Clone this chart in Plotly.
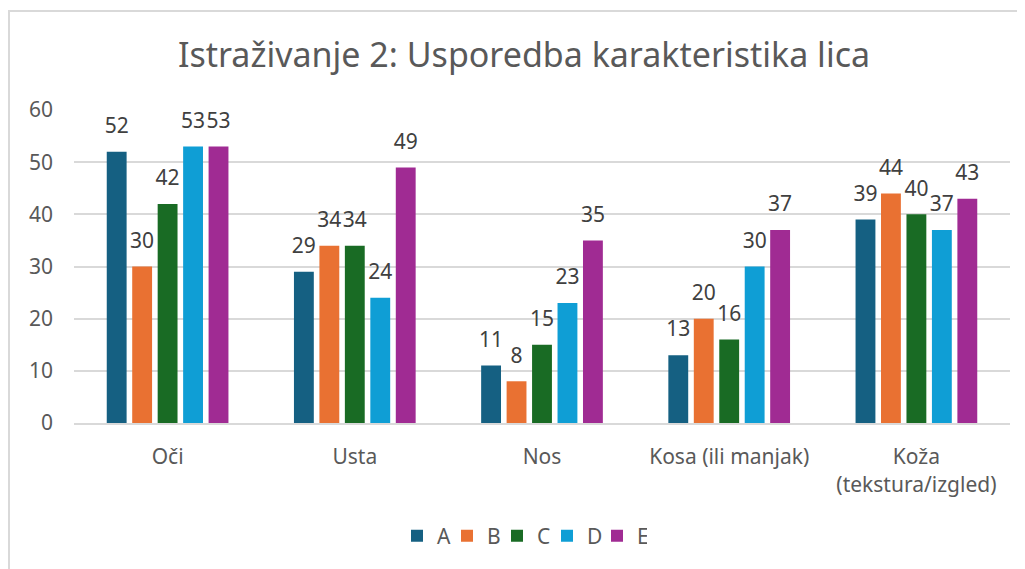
import plotly.graph_objects as go

categories = ["Oči", "Usta", "Nos", "Kosa (ili manjak)", "Koža<br>(tekstura/izgled)"]
series_names = ["A", "B", "C", "D", "E"]
values_A = [52, 29, 11, 13, 39]
values_B = [30, 34, 8, 20, 44]
values_C = [42, 34, 15, 16, 40]
values_D = [53, 24, 23, 30, 37]
values_E = [53, 49, 35, 37, 43]
colors = ["#156082", "#E97132", "#196B24", "#0F9ED5", "#A02B93"]

FONT = "Noto Sans"
TXT = "#595959"
GAP = 0.32

fig = go.Figure()
all_vals = [values_A, values_B, values_C, values_D, values_E]
for name, vals, col in zip(series_names, all_vals, colors):
    fig.add_trace(go.Bar(
        name=name, x=categories, y=vals,
        marker=dict(color=col, line=dict(width=0)),
        hoverinfo="x+y+name",
    ))
# data labels, aligned to the grouped bars, lifted above the bar ends
for name, vals in zip(series_names, all_vals):
    fig.add_trace(go.Scatter(
        name=name, x=categories, y=vals, mode="markers+text",
        text=[str(v) for v in vals], textposition="top center",
        textfont=dict(size=21, color="#404040", family=FONT),
        marker=dict(size=20, opacity=0), showlegend=False, hoverinfo="skip",
        cliponaxis=False,
    ))

# the page body adds an 8px offset; the figure is laid out in its own pixels
W, H = 1017, 561
L, R, T, B = 66, 15, 102, 146
pw = W - L - R
ph = H - T - B

fig.update_layout(
    width=W, height=H,
    margin=dict(l=L, r=R, t=T, b=B, autoexpand=False),
    paper_bgcolor="white", plot_bgcolor="white",
    barmode="group", bargap=GAP, bargroupgap=0.22,
    scattermode="group", scattergap=GAP,
    font=dict(family=FONT, color=TXT, size=21),
    title=dict(text="Istraživanje 2: Usporedba karakteristika lica",
               x=516 / W, xref="container", xanchor="center",
               y=1 - 47 / H, yref="container", yanchor="middle",
               font=dict(size=34, color=TXT, family=FONT)),
    legend=dict(orientation="h", xref="container", x=514 / W,
                xanchor="center", yref="container", y=1 - 528 / H, yanchor="middle",
                font=dict(size=21, color=TXT), itemwidth=30, traceorder="normal",
                entrywidth=5, entrywidthmode="pixels"),
    showlegend=True,
    shapes=[dict(type="rect", xref="paper", yref="paper",
                 x0=(1 - L) / pw, x1=1.2, y0=-1.0, y1=(T + ph - 3) / ph,
                 line=dict(color="#D9D9D9", width=2), fillcolor="rgba(0,0,0,0)", layer="below")],
)
fig.update_yaxes(range=[0, 60], dtick=10, showgrid=True, gridcolor="#D9D9D9", gridwidth=1.5,
                 zeroline=False, showline=False, ticks="", ticklabelstandoff=20,
                 tickfont=dict(size=21, color=TXT), automargin=False)
fig.update_xaxes(showline=True, linecolor="#D9D9D9", linewidth=2, ticks="",
                 ticklabelstandoff=14, tickfont=dict(size=21, color=TXT), automargin=False)

fig.write_html("out.html")
